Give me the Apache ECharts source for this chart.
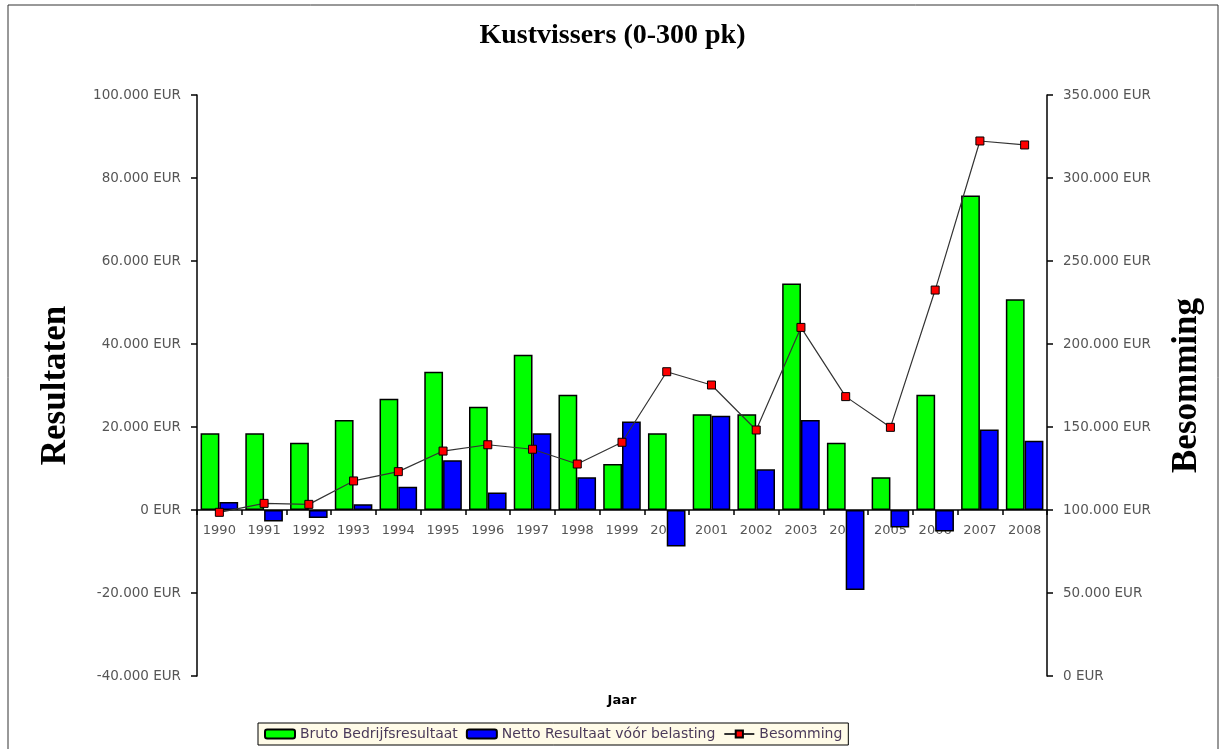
<!DOCTYPE html>
<html>
<head>
<meta charset="utf-8">
<script src="https://cdn.jsdelivr.net/npm/echarts@6/dist/echarts.min.js"></script>
<style>
html, body { margin: 0; padding: 0; background: #fff; }
#chart { width: 1225px; height: 749px; }
</style>
</head>
<body>
<div id="chart"></div>
<script>
let jaren = ['1990', '1991', '1992', '1993', '1994', '1995', '1996', '1997', '1998', '1999',
	'2000', '2001', '2002', '2003', '2004', '2005', '2006', '2007', '2008'];
let bruto = [18500, 18500, 16200, 21700, 26800, 33300, 24900, 37400, 27800, 11100,
	18500, 23100, 23100, 54600, 16200, 7900, 27800, 75800, 50800];
let netto = [1900, -2800, -1900, 1400, 5600, 12000, 4200, 18500, 7900, 21300,
	-8800, 22700, 9800, 21700, -19300, -4200, -5200, 19400, 16700];
let besomming = [98600, 104000, 103400, 117500, 123100, 135500, 139300, 136600, 127700, 140800,
	183300, 175300, 148200, 210000, 168300, 149800, 232500, 322300, 319900];

function eur(v) {
	let s = Math.abs(v).toString().replace(/\B(?=(\d{3})+(?!\d))/g, '.');
	return (v < 0 ? '-' : '') + s + ' EUR';
}

let myChart = echarts.init(document.getElementById('chart'));

let axisLabel = { color: '#555', fontSize: 13.5, fontFamily: 'DejaVu Sans', formatter: eur, margin: 16 };
let axisLine = { show: true, onZero: false, lineStyle: { color: '#000', width: 1.5 } };
let nameStyle = { fontFamily: 'Liberation Serif', fontWeight: 'bold', fontSize: 35, color: '#000' };

option = {
	animation: false,
	title: {
		text: 'Kustvissers (0-300 pk)',
		left: 'center',
		top: 17,
		textStyle: { fontFamily: 'Liberation Serif', fontWeight: 'bold', fontSize: 28, color: '#000' }
	},
	legend: {
		left: 258,
		top: 723,
		padding: [4, 6],
		itemGap: 8,
		itemWidth: 30,
		itemHeight: 9,
		borderColor: '#000',
		borderWidth: 1,
		backgroundColor: '#fffbe8',
		textStyle: { fontFamily: 'DejaVu Sans', fontSize: 14, color: '#4a3a5a' },
		data: ['Bruto Bedrijfsresultaat', 'Netto Resultaat vóór belasting', 'Besomming']
	},
	grid: { left: 197, right: 178, top: 95, bottom: 73, outerBoundsMode: 'none' },
	xAxis: {
		type: 'category',
		data: jaren,
		position: 'bottom',
		// x-as ligt op de nul van de linker as
		offset: -166,
		name: 'Jaar',
		nameLocation: 'middle',
		nameGap: 184,
		nameTextStyle: { fontFamily: 'DejaVu Sans', fontWeight: 'bold', fontSize: 13, color: '#000' },
		axisLine: { show: true, onZero: false, lineStyle: { color: '#000', width: 1.5 } },
		axisTick: { show: true, length: 5, lineStyle: { color: '#000', width: 1.5 } },
		axisLabel: { color: '#555', fontSize: 13, fontFamily: 'DejaVu Sans', margin: 14 }
	},
	yAxis: [
		{
			type: 'value',
			min: -40000,
			max: 100000,
			interval: 20000,
			name: 'Resultaten',
			nameLocation: 'middle',
			nameRotate: 90,
			nameGap: 124,
			nameTextStyle: nameStyle,
			axisLine: axisLine,
			axisTick: { show: true, length: 6, lineStyle: { color: '#000', width: 1.5 } },
			axisLabel: axisLabel,
			splitLine: { show: false }
		},
		{
			type: 'value',
			min: 0,
			max: 350000,
			interval: 50000,
			name: 'Besomming',
			nameLocation: 'middle',
			nameRotate: 90,
			nameGap: 122,
			nameTextStyle: nameStyle,
			axisLine: axisLine,
			axisTick: { show: true, length: 6, lineStyle: { color: '#000', width: 1.5 } },
			axisLabel: axisLabel,
			splitLine: { show: false }
		}
	],
	series: [
		{
			name: 'Bruto Bedrijfsresultaat',
			type: 'bar',
			data: bruto,
			barGap: '0%',
			barCategoryGap: '16%',
			itemStyle: { color: '#00ff00', borderColor: '#000', borderWidth: 1.5 }
		},
		{
			name: 'Netto Resultaat vóór belasting',
			type: 'bar',
			data: netto,
			itemStyle: { color: '#0000ff', borderColor: '#000', borderWidth: 1.5 }
		},
		{
			name: 'Besomming',
			type: 'line',
			yAxisIndex: 1,
			data: besomming,
			symbol: 'rect',
			symbolSize: 8,
			lineStyle: { color: '#333', width: 1.2 },
			itemStyle: { color: '#ff0000', borderColor: '#000', borderWidth: 1 },
			z: 5
		}
	],
	graphic: [
		{
			type: 'rect',
			shape: { x: 8, y: 5, width: 1210, height: 760 },
			style: { fill: null, stroke: '#333', lineWidth: 1 },
			silent: true
		}
	]
};

myChart.setOption(option);
</script>
</body>
</html>
